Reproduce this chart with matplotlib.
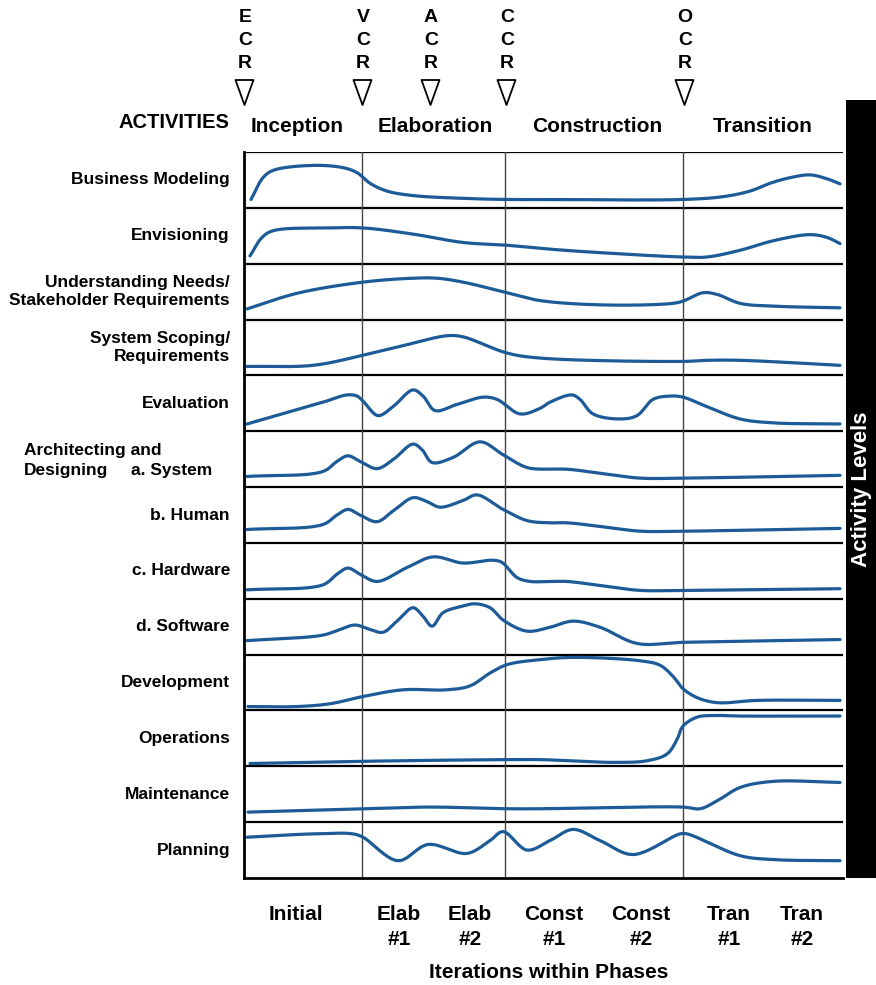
import numpy as np
import matplotlib
matplotlib.use("Agg")
import matplotlib.pyplot as plt
from matplotlib.path import Path
from matplotlib.transforms import blended_transform_factory

plt.rcParams['font.family'] = ['Liberation Sans', 'DejaVu Sans']
plt.rcParams['font.weight'] = 'bold'

# activity rows, top to bottom
activities = ["Business Modeling", "Envisioning", "Understanding Needs/\nStakeholder Requirements",
              "System Scoping/\nRequirements", "Evaluation", "", "b. Human", "c. Hardware",
              "d. Software", "Development", "Operations", "Maintenance", "Planning"]

# curves: (timeline position, activity level 0..1 within the row)
business_modeling = [(7, .15), (19, .54), (29, .67), (69, .76), (99, .72), (113, .63), (126, .44),
                     (143, .30), (169, .22), (219, .17), (263, .15), (306, .15), (439, .15),
                     (479, .20), (506, .30), (526, .44), (546, .54), (566, .59), (583, .52), (596, .43)]
envisioning = [(6, .14), (18, .47), (29, .59), (86, .64), (119, .64), (169, .53), (219, .38),
               (263, .33), (306, .26), (363, .19), (439, .12), (463, .12), (496, .24), (529, .41),
               (566, .52), (583, .47), (596, .36)]
understanding = [(3, .19), (53, .47), (119, .67), (169, .74), (193, .74), (219, .67), (263, .48),
                 (296, .34), (363, .26), (429, .29), (439, .33), (459, .48), (473, .45), (496, .29),
                 (529, .24), (596, .21)]
scoping = [(3, .16), (69, .18), (119, .36), (163, .55), (203, .71), (219, .69), (263, .40),
           (296, .31), (439, .25), (463, .27), (496, .27), (596, .18)]
evaluation = [(3, .13), (79, .52), (103, .65), (113, .63), (119, .54), (134, .28), (149, .44),
              (169, .74), (179, .63), (191, .37), (213, .48), (239, .61), (253, .57), (276, .31),
              (296, .41), (306, .52), (328, .65), (336, .57), (349, .31), (376, .22), (393, .28),
              (409, .57), (426, .63), (439, .61), (463, .44), (496, .22), (529, .15), (596, .13)]
arch_system = [(3, .19), (79, .28), (93, .46), (104, .56), (116, .46), (133, .33), (149, .49),
               (169, .77), (178, .67), (188, .44), (209, .53), (236, .81), (259, .58), (283, .35),
               (306, .32), (323, .32), (363, .23), (396, .16), (439, .16), (596, .21)]
arch_human = [(3, .24), (79, .33), (93, .50), (104, .60), (116, .50), (133, .38), (149, .57),
              (169, .81), (183, .74), (196, .64), (219, .76), (233, .86), (259, .60), (283, .40),
              (306, .36), (323, .36), (363, .28), (396, .21), (439, .21), (596, .26)]
arch_hardware = [(3, .16), (79, .25), (93, .44), (104, .55), (116, .44), (133, .31), (163, .56),
                 (189, .75), (219, .64), (249, .69), (258, .65), (273, .38), (286, .31), (306, .31),
                 (323, .31), (363, .22), (396, .15), (439, .15), (596, .18)]
arch_software = [(3, .25), (79, .35), (96, .45), (111, .53), (126, .45), (139, .40), (153, .60),
                 (169, .84), (178, .71), (188, .51), (199, .75), (219, .87), (231, .91), (246, .84),
                 (259, .62), (283, .42), (306, .49), (329, .60), (356, .49), (393, .20), (439, .22),
                 (596, .27)]
development = [(4, .07), (53, .07), (86, .12), (119, .25), (159, .37), (203, .37), (226, .44),
               (246, .67), (263, .82), (296, .91), (329, .95), (396, .89), (416, .81), (429, .61),
               (439, .39), (453, .23), (473, .14), (513, .18), (596, .18)]
operations = [(6, .05), (119, .09), (263, .12), (296, .12), (373, .07), (403, .10), (423, .22),
              (433, .48), (439, .72), (453, .88), (469, .91), (496, .90), (596, .90)]
maintenance = [(4, .18), (119, .24), (186, .27), (263, .24), (296, .24), (439, .27), (456, .24),
               (473, .38), (496, .62), (529, .73), (596, .71)]
planning = [(3, .73), (69, .79), (109, .79), (119, .73), (154, .31), (184, .60), (223, .44),
            (246, .67), (259, .83), (283, .50), (306, .67), (329, .87), (356, .67), (389, .42),
            (436, .79), (443, .79), (496, .40), (529, .33), (596, .31)]

curves = [business_modeling, envisioning, understanding, scoping, evaluation, arch_system,
          arch_human, arch_hardware, arch_software, development, operations, maintenance, planning]

milestones = ["ECR", "VCR", "ACR", "CCR", "OCR"]
milestone_pos = [0, 118, 186, 262, 440]
phase_lines = [118, 261, 439]
phases = ["Inception", "Elaboration", "Construction", "Transition"]
phase_pos = [53, 191, 353, 519]
iterations = ["Initial", "Elab\n#1", "Elab\n#2", "Const\n#1", "Const\n#2", "Tran\n#1", "Tran\n#2"]
iteration_pos = [52, 155, 226, 310, 397, 485, 558]

BLUE = '#1d5b98'
W, H = 876, 985


def catmull_rom(pts, n=24, yscale=55.0):
    # centripetal Catmull-Rom through the read points
    P = np.array(pts, dtype=float)
    P[:, 1] *= yscale
    P = np.vstack([2 * P[0] - P[1], P, 2 * P[-1] - P[-2]])
    out = []
    for i in range(1, len(P) - 2):
        p0, p1, p2, p3 = P[i - 1], P[i], P[i + 1], P[i + 2]
        t0 = 0.0
        t1 = t0 + np.linalg.norm(p1 - p0) ** 0.5
        t2 = t1 + np.linalg.norm(p2 - p1) ** 0.5
        t3 = t2 + np.linalg.norm(p3 - p2) ** 0.5
        t = np.linspace(t1, t2, n)[:, None]
        A1 = (t1 - t) / (t1 - t0) * p0 + (t - t0) / (t1 - t0) * p1
        A2 = (t2 - t) / (t2 - t1) * p1 + (t - t1) / (t2 - t1) * p2
        A3 = (t3 - t) / (t3 - t2) * p2 + (t - t2) / (t3 - t2) * p3
        B1 = (t2 - t) / (t2 - t0) * A1 + (t - t0) / (t2 - t0) * A2
        B2 = (t3 - t) / (t3 - t1) * A2 + (t - t1) / (t3 - t1) * A3
        C = (t2 - t) / (t2 - t1) * B1 + (t - t1) / (t2 - t1) * B2
        out.append(C)
    C = np.vstack(out)
    return C[:, 0], C[:, 1] / yscale


fig = plt.figure(figsize=(W / 100, H / 100), dpi=100)
ax = fig.add_axes([244 / W, 1 - 878 / H, (843 - 244) / W, (878 - 152) / H])
nrows = len(curves)
ax.set_xlim(0, 599)
ax.set_ylim(0, nrows)
ax.set_xticks([])
ax.set_yticks([])
for s in ['top', 'right']:
    ax.spines[s].set_visible(False)
ax.spines['left'].set_linewidth(2)
ax.spines['bottom'].set_linewidth(2)

for i in range(nrows):
    ax.axhline(nrows - i, color='black', lw=1.6)
for xv in phase_lines:
    ax.axvline(xv, color='#444444', lw=1.0)

for i, pts in enumerate(curves):
    xs, ys = catmull_rom(pts)
    ax.plot(xs, nrows - 1 - i + ys, color=BLUE, lw=2.3, solid_capstyle='round')

# row labels
def ftext(x, y, s, **kw):
    fig.text(x / W, 1 - y / H, s, **kw)

row_h = (878 - 152) / nrows
for i, lab in enumerate(activities):
    if lab:
        ftext(230, 152 + (i + 0.5) * row_h, lab, ha='right', va='center', fontsize=12.5,
              linespacing=1.25)
ftext(24, 450, "Architecting and", ha='left', va='center', fontsize=12.5)
ftext(24, 471, "Designing", ha='left', va='center', fontsize=12.5)
ftext(212, 471, "a. System", ha='right', va='center', fontsize=12.5)
ftext(229, 123, "ACTIVITIES", ha='right', va='center', fontsize=14.5)

# milestones and phases
tr = blended_transform_factory(ax.transData, fig.transFigure)
tri = Path([(-0.36, 0.5), (0.36, 0.5), (0, -0.5), (-0.36, 0.5)],
           [Path.MOVETO, Path.LINETO, Path.LINETO, Path.CLOSEPOLY])
for name, xp in zip(milestones, milestone_pos):
    for k, ch in enumerate(name):
        ax.text(xp + 1, 1 - (17 + 23.5 * k) / H, ch, transform=tr, ha='center', va='center',
                fontsize=14, clip_on=False)
    ax.plot([xp], [1 - 92 / H], transform=tr, marker=tri, ms=18, mfc='white', mec='black',
            mew=1.3, clip_on=False)
for name, xp in zip(phases, phase_pos):
    ax.text(xp, 1 - 126 / H, name, transform=tr, ha='center', va='center', fontsize=15,
            clip_on=False)
for name, xp in zip(iterations, iteration_pos):
    ax.text(xp, 1 - 905 / H, name, transform=tr, ha='center', va='top', fontsize=15,
            linespacing=1.4, clip_on=False)
ftext(549, 972, "Iterations within Phases", ha='center', va='center', fontsize=15)

# black bar
bar = fig.add_axes([846 / W, 1 - 878 / H, (876 - 846) / W, (878 - 100) / H])
bar.set_facecolor('black')
bar.set_xticks([])
bar.set_yticks([])
for s in bar.spines.values():
    s.set_visible(False)
bar.text(0.5, (878 - 489) / (878 - 100), "Activity Levels", color='white', rotation=90,
         ha='center', va='center', fontsize=16, transform=bar.transAxes)

fig.savefig("out.png", dpi=100)
